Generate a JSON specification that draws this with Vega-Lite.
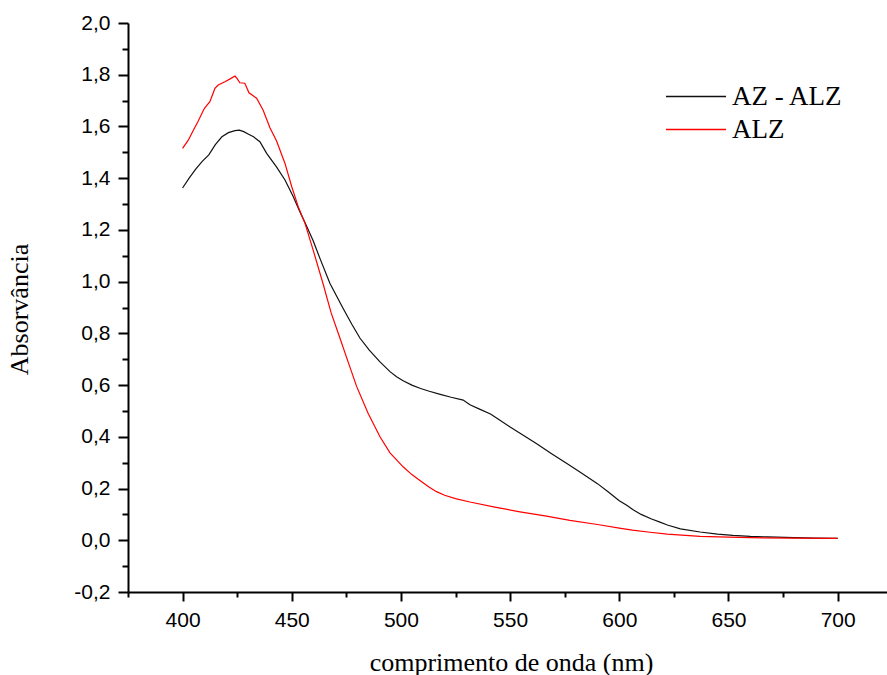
{
  "$schema": "https://vega.github.io/schema/vega-lite/v6.json",
  "width": 759,
  "height": 569,
  "autosize": {"type": "none"},
  "padding": {"left": 128, "top": 23, "right": 0, "bottom": 83},
  "background": "white",
  "config": {
    "view": {"stroke": null},
    "axis": {"grid": false, "domainColor": "black", "domainWidth": 2, "tickColor": "black", "tickWidth": 2, "labelColor": "black", "labelFont": "Liberation Sans", "labelFontSize": 21, "titleFont": "Liberation Serif", "titleFontSize": 26, "titleFontWeight": "normal", "titleColor": "black"}
  },
  "datasets": {
    "spectra": [
      {"s": "AZ - ALZ", "nm": 400, "a": 1.362}, {"s": "AZ - ALZ", "nm": 403, "a": 1.4}, {"s": "AZ - ALZ", "nm": 406, "a": 1.435}, {"s": "AZ - ALZ", "nm": 409, "a": 1.465}, {"s": "AZ - ALZ", "nm": 412, "a": 1.49}, {"s": "AZ - ALZ", "nm": 415, "a": 1.53}, {"s": "AZ - ALZ", "nm": 418, "a": 1.56}, {"s": "AZ - ALZ", "nm": 421, "a": 1.576}, {"s": "AZ - ALZ", "nm": 424, "a": 1.584}, {"s": "AZ - ALZ", "nm": 426, "a": 1.586}, {"s": "AZ - ALZ", "nm": 428, "a": 1.58}, {"s": "AZ - ALZ", "nm": 430, "a": 1.571}, {"s": "AZ - ALZ", "nm": 432.5, "a": 1.56}, {"s": "AZ - ALZ", "nm": 435.4, "a": 1.541}, {"s": "AZ - ALZ", "nm": 438.5, "a": 1.496}, {"s": "AZ - ALZ", "nm": 443, "a": 1.444}, {"s": "AZ - ALZ", "nm": 446.9, "a": 1.393}, {"s": "AZ - ALZ", "nm": 450.7, "a": 1.328}, {"s": "AZ - ALZ", "nm": 453.7, "a": 1.27}, {"s": "AZ - ALZ", "nm": 456, "a": 1.23}, {"s": "AZ - ALZ", "nm": 459.8, "a": 1.158}, {"s": "AZ - ALZ", "nm": 462.9, "a": 1.09}, {"s": "AZ - ALZ", "nm": 467.5, "a": 0.993}, {"s": "AZ - ALZ", "nm": 473.6, "a": 0.895}, {"s": "AZ - ALZ", "nm": 477.5, "a": 0.835}, {"s": "AZ - ALZ", "nm": 481.2, "a": 0.782}, {"s": "AZ - ALZ", "nm": 485.5, "a": 0.735}, {"s": "AZ - ALZ", "nm": 490.4, "a": 0.69}, {"s": "AZ - ALZ", "nm": 495, "a": 0.652}, {"s": "AZ - ALZ", "nm": 498, "a": 0.632}, {"s": "AZ - ALZ", "nm": 501, "a": 0.617}, {"s": "AZ - ALZ", "nm": 505, "a": 0.6}, {"s": "AZ - ALZ", "nm": 509, "a": 0.587}, {"s": "AZ - ALZ", "nm": 513, "a": 0.576}, {"s": "AZ - ALZ", "nm": 518, "a": 0.564}, {"s": "AZ - ALZ", "nm": 523, "a": 0.553}, {"s": "AZ - ALZ", "nm": 528.5, "a": 0.542}, {"s": "AZ - ALZ", "nm": 531.6, "a": 0.524}, {"s": "AZ - ALZ", "nm": 536, "a": 0.507}, {"s": "AZ - ALZ", "nm": 541, "a": 0.488}, {"s": "AZ - ALZ", "nm": 545, "a": 0.466}, {"s": "AZ - ALZ", "nm": 550, "a": 0.438}, {"s": "AZ - ALZ", "nm": 556, "a": 0.406}, {"s": "AZ - ALZ", "nm": 562, "a": 0.374}, {"s": "AZ - ALZ", "nm": 569, "a": 0.335}, {"s": "AZ - ALZ", "nm": 576, "a": 0.297}, {"s": "AZ - ALZ", "nm": 583, "a": 0.258}, {"s": "AZ - ALZ", "nm": 590, "a": 0.219}, {"s": "AZ - ALZ", "nm": 595, "a": 0.187}, {"s": "AZ - ALZ", "nm": 600, "a": 0.153}, {"s": "AZ - ALZ", "nm": 603.4, "a": 0.135}, {"s": "AZ - ALZ", "nm": 606.5, "a": 0.117}, {"s": "AZ - ALZ", "nm": 610, "a": 0.1}, {"s": "AZ - ALZ", "nm": 614.5, "a": 0.083}, {"s": "AZ - ALZ", "nm": 618.6, "a": 0.07}, {"s": "AZ - ALZ", "nm": 622, "a": 0.059}, {"s": "AZ - ALZ", "nm": 628, "a": 0.044}, {"s": "AZ - ALZ", "nm": 637, "a": 0.032}, {"s": "AZ - ALZ", "nm": 645, "a": 0.024}, {"s": "AZ - ALZ", "nm": 652, "a": 0.019}, {"s": "AZ - ALZ", "nm": 660, "a": 0.015}, {"s": "AZ - ALZ", "nm": 668, "a": 0.013}, {"s": "AZ - ALZ", "nm": 680, "a": 0.01}, {"s": "AZ - ALZ", "nm": 690, "a": 0.008}, {"s": "AZ - ALZ", "nm": 700, "a": 0.007},
      {"s": "ALZ", "nm": 400, "a": 1.515}, {"s": "ALZ", "nm": 402.6, "a": 1.547}, {"s": "ALZ", "nm": 405, "a": 1.586}, {"s": "ALZ", "nm": 407, "a": 1.618}, {"s": "ALZ", "nm": 410, "a": 1.67}, {"s": "ALZ", "nm": 412.5, "a": 1.696}, {"s": "ALZ", "nm": 414.8, "a": 1.747}, {"s": "ALZ", "nm": 416.3, "a": 1.76}, {"s": "ALZ", "nm": 419.4, "a": 1.773}, {"s": "ALZ", "nm": 422, "a": 1.785}, {"s": "ALZ", "nm": 424, "a": 1.795}, {"s": "ALZ", "nm": 425, "a": 1.785}, {"s": "ALZ", "nm": 426.2, "a": 1.769}, {"s": "ALZ", "nm": 428.5, "a": 1.767}, {"s": "ALZ", "nm": 430.4, "a": 1.73}, {"s": "ALZ", "nm": 433.9, "a": 1.709}, {"s": "ALZ", "nm": 436.9, "a": 1.663}, {"s": "ALZ", "nm": 440, "a": 1.595}, {"s": "ALZ", "nm": 443, "a": 1.545}, {"s": "ALZ", "nm": 446.9, "a": 1.457}, {"s": "ALZ", "nm": 450, "a": 1.367}, {"s": "ALZ", "nm": 453, "a": 1.289}, {"s": "ALZ", "nm": 456, "a": 1.227}, {"s": "ALZ", "nm": 459.8, "a": 1.122}, {"s": "ALZ", "nm": 464.4, "a": 0.99}, {"s": "ALZ", "nm": 468, "a": 0.88}, {"s": "ALZ", "nm": 472, "a": 0.783}, {"s": "ALZ", "nm": 476, "a": 0.685}, {"s": "ALZ", "nm": 479.7, "a": 0.595}, {"s": "ALZ", "nm": 485, "a": 0.49}, {"s": "ALZ", "nm": 490.4, "a": 0.4}, {"s": "ALZ", "nm": 495, "a": 0.338}, {"s": "ALZ", "nm": 501, "a": 0.284}, {"s": "ALZ", "nm": 505, "a": 0.254}, {"s": "ALZ", "nm": 509, "a": 0.229}, {"s": "ALZ", "nm": 513, "a": 0.205}, {"s": "ALZ", "nm": 516.3, "a": 0.188}, {"s": "ALZ", "nm": 520, "a": 0.174}, {"s": "ALZ", "nm": 525, "a": 0.161}, {"s": "ALZ", "nm": 531.6, "a": 0.148}, {"s": "ALZ", "nm": 543, "a": 0.128}, {"s": "ALZ", "nm": 554.5, "a": 0.11}, {"s": "ALZ", "nm": 566, "a": 0.094}, {"s": "ALZ", "nm": 577.4, "a": 0.077}, {"s": "ALZ", "nm": 590, "a": 0.061}, {"s": "ALZ", "nm": 600, "a": 0.047}, {"s": "ALZ", "nm": 606, "a": 0.039}, {"s": "ALZ", "nm": 614, "a": 0.031}, {"s": "ALZ", "nm": 622, "a": 0.024}, {"s": "ALZ", "nm": 637, "a": 0.015}, {"s": "ALZ", "nm": 650, "a": 0.012}, {"s": "ALZ", "nm": 660, "a": 0.01}, {"s": "ALZ", "nm": 680, "a": 0.008}, {"s": "ALZ", "nm": 700, "a": 0.007}
    ]
  },
  "data": {"name": "spectra"},
  "layer": [
    {
      "mark": {"type": "line", "strokeWidth": 1.2, "clip": true},
      "encoding": {
        "x": {"field": "nm", "type": "quantitative", "scale": {"domain": [375, 722.6], "nice": false, "zero": false},
          "axis": {"orient": "bottom", "values": [400, 450, 500, 550, 600, 650, 700], "tickSize": 9, "labelPadding": 8, "title": "comprimento de onda (nm)", "titleX": 383, "titleY": 70, "titleAlign": "center", "titleBaseline": "middle"}},
        "y": {"field": "a", "type": "quantitative", "scale": {"domain": [-0.2, 2.0], "nice": false, "zero": false},
          "axis": {"orient": "left", "values": [-0.2, 0, 0.2, 0.4, 0.6, 0.8, 1.0, 1.2, 1.4, 1.6, 1.8, 2.0], "tickSize": 10, "labelPadding": 8, "labelExpr": "replace(replace(format(datum.value, '.1f'), '.', ','), '\u2212', '-')", "title": "Absorvância", "titleX": -109, "titleY": 286, "titleAngle": -90, "titleAlign": "center", "titleBaseline": "middle"}},
        "color": {"field": "s", "type": "nominal", "sort": ["AZ - ALZ", "ALZ"],
          "scale": {"domain": ["AZ - ALZ", "ALZ"], "range": ["#111111", "#ff0000"]},
          "legend": {"orient": "none", "legendX": 537, "legendY": 57, "title": null, "symbolType": "stroke", "symbolSize": 3600, "symbolStrokeWidth": 1.3, "clipHeight": 33, "labelFont": "Liberation Serif", "labelFontSize": 27, "labelColor": "black", "labelOffset": 5, "rowPadding": 0, "padding": 0, "labelLimit": 300}}
      }
    },
    {
      "mark": {"type": "point", "opacity": 0},
      "encoding": {
        "x": {"field": "nm", "type": "quantitative",
          "axis": {"orient": "bottom", "values": [375, 425, 475, 525, 575, 625, 675], "tickSize": 5, "labels": false, "domain": false, "title": null}},
        "y": {"field": "a", "type": "quantitative",
          "axis": {"orient": "left", "values": [-0.1, 0.1, 0.3, 0.5, 0.7, 0.9, 1.1, 1.3, 1.5, 1.7, 1.9], "tickSize": 6, "labels": false, "domain": false, "title": null}}
      }
    }
  ],
  "resolve": {"axis": {"x": "independent", "y": "independent"}}
}
